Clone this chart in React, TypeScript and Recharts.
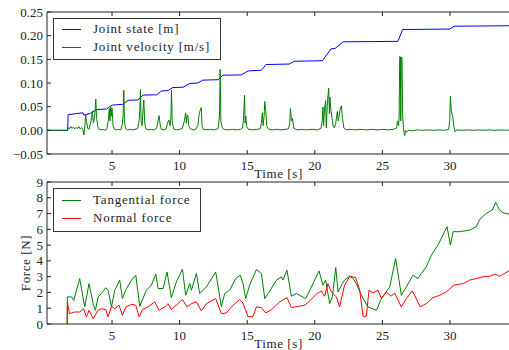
import React from "react";
import { LineChart, Line, XAxis, YAxis, Legend, Label } from "recharts";

const FONT = "'Liberation Serif', 'DejaVu Serif', serif";
const INK = "#222";

const timeTicks = [5, 10, 15, 20, 25, 30];
const timeDomain: [number, number] = [0.19, 34.44];
const jointTicks = [-0.05, 0, 0.05, 0.1, 0.15, 0.2, 0.25];
const forceTicks = [0, 1, 2, 3, 4, 5, 6, 7, 8, 9];

const jointNames = ["Joint state [m]", "Joint velocity [m/s]"];
const jointColors = ["#0000ff", "#008000"];
const forceNames = ["Tangential force", "Normal force"];
const forceColors = ["#008000", "#ff0000"];

// [time s, value]
const jointState: [number, number][] = [
  [0.19, 0], [1.72, 0], [1.75, 0.033], [2.85, 0.037], [2.92, 0.032], [3.4, 0.036],
  [3.85, 0.044], [4.6, 0.045], [4.8, 0.05], [5.07, 0.0535], [5.8, 0.055], [6.2, 0.0635],
  [6.9, 0.064], [7.3, 0.0745], [8.3, 0.075], [8.65, 0.083], [9.15, 0.084], [9.5, 0.0905],
  [10.25, 0.091], [10.75, 0.099], [11.35, 0.1], [11.7, 0.106], [12.85, 0.107], [13.2, 0.1165],
  [14.55, 0.117], [15.06, 0.1255], [16.05, 0.127], [16.4, 0.139], [18.1, 0.14], [18.5, 0.146],
  [20.56, 0.147], [21.2, 0.172], [21.5, 0.173], [22.1, 0.187], [26.15, 0.188], [26.5, 0.213],
  [30.0, 0.214], [30.3, 0.22], [34.44, 0.221],
];

const jointVelocity: [number, number][] = [
  [0.19, 0], [1.72, 0], [1.75, 0.006], [1.85, 0.003], [1.95, 0.008], [2.05, 0.004], [2.15, 0.007],
  [2.25, 0.003], [2.35, 0.006], [2.45, 0.004], [2.55, 0.008], [2.65, 0.003], [2.75, 0.006],
  [2.85, 0.002], [2.92, -0.01], [2.97, 0.002], [3.05, 0.032], [3.12, 0.018], [3.2, 0.004],
  [3.3, 0.002], [3.45, 0.02], [3.55, 0.04], [3.62, 0.015], [3.72, 0.03], [3.8, 0.066],
  [3.86, 0.025], [3.95, 0.008], [4.05, 0.002], [4.2, 0.001], [4.35, 0.002], [4.5, 0], [4.62, 0.003],
  [4.72, 0.02], [4.8, 0.046], [4.85, 0.02], [4.9, 0.05], [4.95, 0.03], [5.0, 0.047], [5.08, 0.01],
  [5.2, 0.002], [5.35, 0.001], [5.5, 0.002], [5.65, 0.001], [5.75, 0.012], [5.82, 0.03],
  [5.87, 0.085], [5.92, 0.02], [6.0, 0.004], [6.15, 0.001], [6.3, 0.002], [6.5, 0.001],
  [6.7, 0.002], [6.9, 0.004], [7.0, 0.02], [7.05, 0.04], [7.1, 0.086], [7.15, 0.02], [7.22, 0.01],
  [7.3, 0.045], [7.35, 0.064], [7.42, 0.015], [7.5, 0.003], [7.7, 0.001], [7.9, 0.002],
  [8.1, 0.001], [8.3, 0.004], [8.4, 0.02], [8.48, 0.031], [8.56, 0.012], [8.65, 0.002],
  [8.85, 0.001], [9.0, 0.003], [9.1, 0.015], [9.2, 0.022], [9.3, 0.01], [9.36, 0.03], [9.4, 0.085],
  [9.45, 0.02], [9.55, 0.003], [9.8, 0.001], [10.0, 0.002], [10.2, 0.004], [10.35, 0.02],
  [10.45, 0.037], [10.5, 0.015], [10.55, 0.03], [10.6, 0.032], [10.68, 0.01], [10.8, 0.003],
  [11.0, 0.001], [11.2, 0.002], [11.35, 0.01], [11.45, 0.035], [11.52, 0.042], [11.6, 0.048],
  [11.66, 0.01], [11.75, 0.002], [12.0, 0.001], [12.3, 0.002], [12.6, 0.001], [12.85, 0.004],
  [12.95, 0.03], [13.0, 0.129], [13.05, 0.02], [13.15, 0.005], [13.3, 0.002], [13.6, 0.001],
  [13.9, 0.002], [14.2, 0.001], [14.5, 0.002], [14.65, 0.005], [14.72, 0.02], [14.8, 0.074],
  [14.85, 0.015], [14.9, 0.03], [14.96, 0.008], [15.1, 0.002], [15.4, 0.001], [15.7, 0.002],
  [15.95, 0.003], [16.05, 0.015], [16.12, 0.037], [16.18, 0.01], [16.25, 0.03], [16.3, 0.061],
  [16.38, 0.04], [16.45, 0.008], [16.6, 0.002], [16.9, 0.001], [17.2, 0.002], [17.5, 0.001],
  [17.8, 0.002], [18.05, 0.003], [18.15, 0.015], [18.2, 0.046], [18.28, 0.02], [18.35, 0.025],
  [18.45, 0.004], [18.7, 0.001], [19.0, 0.002], [19.4, 0.001], [19.8, 0.002], [20.2, 0.001],
  [20.45, 0.004], [20.55, 0.02], [20.6, 0.049], [20.65, 0.01], [20.72, 0.045], [20.8, 0.063],
  [20.85, 0.005], [20.92, 0.05], [20.98, 0.075], [21.03, 0.089], [21.08, 0.035], [21.12, 0.07],
  [21.2, 0.04], [21.28, 0.025], [21.35, 0.01], [21.45, 0.005], [21.55, 0.015], [21.62, 0.03],
  [21.67, 0.04], [21.73, 0.02], [21.8, 0.03], [21.88, 0.045], [21.97, 0.052], [22.05, 0.025],
  [22.15, 0.005], [22.3, 0.001], [22.6, 0.002], [23.0, 0.001], [23.4, 0.002], [23.8, 0.001],
  [24.2, 0.002], [24.6, 0.001], [25.0, 0.002], [25.4, 0.001], [25.8, 0.002], [26.05, 0.005],
  [26.12, 0.02], [26.2, 0.01], [26.24, 0.03], [26.28, 0.156], [26.33, 0.155], [26.36, 0.02],
  [26.4, 0.155], [26.45, 0.154], [26.5, 0.03], [26.56, 0.005], [26.62, -0.008], [26.66, -0.011],
  [26.72, 0], [26.8, -0.003], [26.95, 0], [27.2, -0.001], [27.6, 0.001], [28.0, 0], [28.4, 0.001],
  [28.8, 0], [29.2, 0.001], [29.6, 0], [29.9, 0.002], [29.98, 0.02], [30.03, 0.072], [30.1, 0.04],
  [30.2, 0.03], [30.28, 0.01], [30.38, -0.003], [30.5, 0.001], [30.9, 0], [31.3, 0.001], [31.7, 0],
  [32.1, 0.001], [32.5, 0], [32.9, 0.001], [33.3, 0], [33.7, 0.001], [34.1, 0], [34.44, 0.001],
];

const tangentialForce: [number, number][] = [
  [1.68, 0], [1.7, 1.72], [2.0, 1.72], [2.17, 1.5], [2.61, 2.88], [2.98, 1.08], [3.3, 2.56],
  [3.6, 1.29], [3.77, 0.87], [3.97, 1.72], [4.22, 1.93], [4.54, 2.3], [4.71, 2.14], [4.96, 1.08],
  [5.2, 2.14], [5.57, 2.78], [5.77, 1.61], [6.07, 2.25], [6.44, 2.78], [6.76, 3.09], [7.05, 1.12],
  [7.54, 2.14], [7.91, 2.46], [8.24, 3.16], [8.41, 2.25], [8.78, 2.25], [9.07, 3.3], [9.39, 1.67],
  [9.76, 2.67], [10.21, 3.47], [10.45, 1.82], [10.75, 2.56], [10.87, 2.14], [11.24, 3.2],
  [11.49, 1.93], [11.98, 2.35], [12.67, 3.3], [13.09, 1.08], [13.33, 1.93], [13.7, 2.14],
  [14.15, 2.88], [14.49, 3.09], [14.69, 2.56], [14.89, 1.61], [15.18, 2.46], [15.68, 3.45],
  [16.05, 3.2], [16.3, 1.61], [16.55, 1.93], [17.16, 2.78], [17.53, 2.99], [17.65, 2.78],
  [17.94, 3.41], [18.27, 1.76], [18.64, 1.93], [19.33, 1.61], [19.75, 2.35], [20.31, 3.37],
  [20.6, 2.46], [20.8, 2.78], [21.1, 1.29], [21.3, 1.72], [21.55, 3.58], [21.72, 2.03],
  [22.04, 2.56], [22.2, 2.78], [22.58, 3.03], [22.83, 2.88], [23.07, 2.56], [23.57, 1.61],
  [23.94, 1.08], [24.56, 0.87], [24.93, 1.61], [25.54, 2.35], [25.98, 4.15], [26.23, 2.78],
  [26.4, 1.82], [26.77, 2.35], [27.26, 3.09], [27.63, 2.88], [27.88, 3.2], [28.25, 3.62],
  [28.62, 4.36], [29.11, 5.0], [29.48, 5.64], [29.78, 6.17], [30.03, 5.0], [30.23, 5.85],
  [30.72, 5.85], [31.46, 5.95], [31.95, 6.17], [32.2, 6.63], [32.69, 7.01], [33.13, 7.22],
  [33.38, 7.71], [33.67, 7.22], [33.92, 7.05], [34.44, 6.95],
];

const normalForce: [number, number][] = [
  [1.68, 0], [1.7, 1.4], [1.85, 0.66], [2.24, 0.76], [2.61, 0.76], [2.9, 0.97], [3.1, 0.45],
  [3.3, 0.87], [3.6, 0.34], [3.97, 0.87], [4.22, 0.97], [4.54, 0.91], [4.71, 0.45], [4.96, 1.12],
  [5.2, 0.97], [5.52, 1.19], [5.77, 0.55], [6.02, 1.08], [6.44, 1.25], [6.76, 1.19], [7.0, 0.45],
  [7.25, 0.91], [7.66, 1.08], [8.16, 1.4], [8.48, 0.87], [8.9, 1.08], [9.15, 1.29], [9.39, 0.91],
  [9.76, 1.19], [10.21, 1.55], [10.55, 1.08], [10.87, 1.29], [11.24, 1.4], [11.61, 0.83],
  [11.98, 1.29], [12.67, 1.61], [13.09, 0.66], [13.45, 0.7], [13.95, 1.19], [14.44, 1.55],
  [14.69, 1.33], [15.06, 0.45], [15.43, 0.49], [15.68, 1.08], [16.05, 1.04], [16.37, 0.7],
  [16.79, 0.91], [17.41, 1.4], [17.94, 1.67], [18.27, 1.04], [18.76, 1.12], [19.25, 1.19],
  [19.62, 1.46], [20.11, 1.89], [20.48, 2.1], [20.73, 1.76], [20.97, 2.56], [21.22, 2.03],
  [21.59, 1.72], [21.84, 1.08], [22.2, 2.46], [22.58, 3.03], [23.02, 2.94], [23.32, 2.14],
  [23.57, 0.49], [23.81, 0.49], [24.01, 2.14], [24.31, 1.97], [24.68, 2.14], [24.93, 1.61],
  [25.29, 2.03], [25.66, 1.76], [25.9, 1.97], [26.4, 1.08], [26.77, 1.61], [27.21, 2.1],
  [27.5, 1.61], [27.8, 1.08], [28.25, 1.29], [28.74, 1.67], [29.23, 1.82], [29.72, 2.03],
  [30.28, 2.46], [30.97, 2.56], [31.46, 2.78], [31.95, 2.88], [32.44, 2.99], [32.94, 3.03],
  [33.3, 3.16], [33.67, 3.03], [34.04, 3.2], [34.44, 3.41],
];

const rows = (pts: [number, number][]) => pts.map(([t, v]) => ({ t, v }));
const fmtJoint = (v: number) => (v < 0 ? "\u2212" : "") + Math.abs(v).toFixed(2);

function BottomTick(props: any) {
  const { x, y, payload } = props;
  return (
    <g>
      <line x1={x} y1={y} x2={x} y2={y - 4} stroke={INK} />
      <text x={x} y={y + 16} textAnchor="middle" fontSize={13} fontFamily={FONT} fill={INK}>
        {payload.value}
      </text>
    </g>
  );
}

function TopTick(props: any) {
  const { x, y } = props;
  return <line x1={x} y1={y} x2={x} y2={y + 4} stroke={INK} />;
}

function LeftTick(props: any) {
  const { x, y, payload, fmt } = props;
  return (
    <g>
      <line x1={x} y1={y} x2={x + 4} y2={y} stroke={INK} />
      <text x={x - 4} y={y + 4.5} textAnchor="end" fontSize={13} fontFamily={FONT} fill={INK}>
        {fmt ? fmt(payload.value) : payload.value}
      </text>
    </g>
  );
}

function BoxLegend({ names, colors, pt, pb }: any) {
  return (
    <div
      style={{
        display: "inline-block",
        border: "1px solid #333",
        background: "#fff",
        padding: `${pt}px 10px ${pb}px 8px`,
        fontFamily: FONT,
        fontSize: 13,
        letterSpacing: 0.8,
        color: INK,
        lineHeight: "18px",
      }}
    >
      {names.map((name: string, i: number) => (
        <div key={name} style={{ display: "flex", alignItems: "center", height: 18 }}>
          <span style={{ width: 19, height: 1, background: colors[i], marginRight: 12 }} />
          <span>{name}</span>
        </div>
      ))}
    </div>
  );
}

function timeLabel(props: any) {
  const { viewBox } = props;
  return (
    <text
      x={viewBox.x + viewBox.width / 2}
      y={viewBox.y + 24}
      textAnchor="middle"
      fontSize={13}
      fontFamily={FONT}
      fill={INK}
      letterSpacing={0.6}
    >
      Time [s]
    </text>
  );
}

function forceLabel(props: any) {
  const { viewBox } = props;
  const cx = viewBox.x - 16;
  const cy = viewBox.y + viewBox.height / 2 + 10;
  return (
    <text
      x={cx}
      y={cy}
      transform={`rotate(-90 ${cx} ${cy})`}
      textAnchor="middle"
      fontSize={13}
      fontFamily={FONT}
      fill={INK}
      letterSpacing={0.6}
    >
      Force [N]
    </text>
  );
}

function TimeAxes() {
  return [
    <XAxis
      key="b"
      xAxisId="bottom"
      dataKey="t"
      type="number"
      domain={timeDomain}
      allowDataOverflow
      ticks={timeTicks}
      interval={0}
      height={1}
      tickSize={0}
      tickMargin={0}
      tickLine={false}
      axisLine={{ stroke: INK }}
      tick={(p: any) => <BottomTick {...p} />}
    >
      <Label content={timeLabel} />
    </XAxis>,
    <XAxis
      key="t"
      xAxisId="top"
      orientation="top"
      dataKey="t"
      type="number"
      domain={timeDomain}
      allowDataOverflow
      ticks={timeTicks}
      interval={0}
      height={1}
      tickSize={0}
      tickMargin={0}
      tickLine={false}
      axisLine={{ stroke: INK }}
      tick={(p: any) => <TopTick {...p} />}
    />,
  ];
}

export default function App() {
  return (
    <div style={{ position: "fixed", left: 0, top: 0, width: 509, height: 350, overflow: "hidden", background: "#fff" }}>
      <div style={{ position: "absolute", left: 0, top: 0 }}>
        <LineChart width={511} height={185} margin={{ top: 11, right: 1, bottom: 30, left: 46 }}>
          {TimeAxes()}
          <YAxis
            type="number"
            domain={[-0.05, 0.25]}
            allowDataOverflow
            ticks={jointTicks}
            interval={0}
            width={1}
            tickSize={0}
            tickMargin={0}
            tickLine={false}
            axisLine={{ stroke: INK }}
            tick={(p: any) => <LeftTick {...p} fmt={fmtJoint} />}
          />
          <Legend
            layout="horizontal"
            align="center"
            verticalAlign="middle"
            wrapperStyle={{ left: 53, top: 18, width: "auto", height: "auto" }}
            content={() => <BoxLegend names={jointNames} colors={jointColors} pt={1} pb={3} />}
          />
          <Line
            xAxisId="bottom"
            data={rows(jointState)}
            dataKey="v"
            name={jointNames[0]}
            stroke={jointColors[0]}
            strokeWidth={1}
            dot={false}
            isAnimationActive={false}
          />
          <Line
            xAxisId="bottom"
            data={rows(jointVelocity)}
            dataKey="v"
            name={jointNames[1]}
            stroke={jointColors[1]}
            strokeWidth={1}
            dot={false}
            isAnimationActive={false}
          />
        </LineChart>
      </div>
      <div style={{ position: "absolute", left: 0, top: 170 }}>
        <LineChart width={511} height={180} margin={{ top: 11, right: 1, bottom: 25, left: 46 }}>
          {TimeAxes()}
          <YAxis
            type="number"
            domain={[0, 9]}
            allowDataOverflow
            ticks={forceTicks}
            interval={0}
            width={1}
            tickSize={0}
            tickMargin={0}
            tickLine={false}
            axisLine={{ stroke: INK }}
            tick={(p: any) => <LeftTick {...p} />}
          >
            <Label content={forceLabel} />
          </YAxis>
          <Legend
            layout="horizontal"
            align="center"
            verticalAlign="middle"
            wrapperStyle={{ left: 53, top: 18, width: "auto", height: "auto" }}
            content={() => <BoxLegend names={forceNames} colors={forceColors} pt={2} pb={4} />}
          />
          <Line
            xAxisId="bottom"
            data={rows(tangentialForce)}
            dataKey="v"
            name={forceNames[0]}
            stroke={forceColors[0]}
            strokeWidth={1}
            dot={false}
            isAnimationActive={false}
          />
          <Line
            xAxisId="bottom"
            data={rows(normalForce)}
            dataKey="v"
            name={forceNames[1]}
            stroke={forceColors[1]}
            strokeWidth={1}
            dot={false}
            isAnimationActive={false}
          />
        </LineChart>
      </div>
    </div>
  );
}
